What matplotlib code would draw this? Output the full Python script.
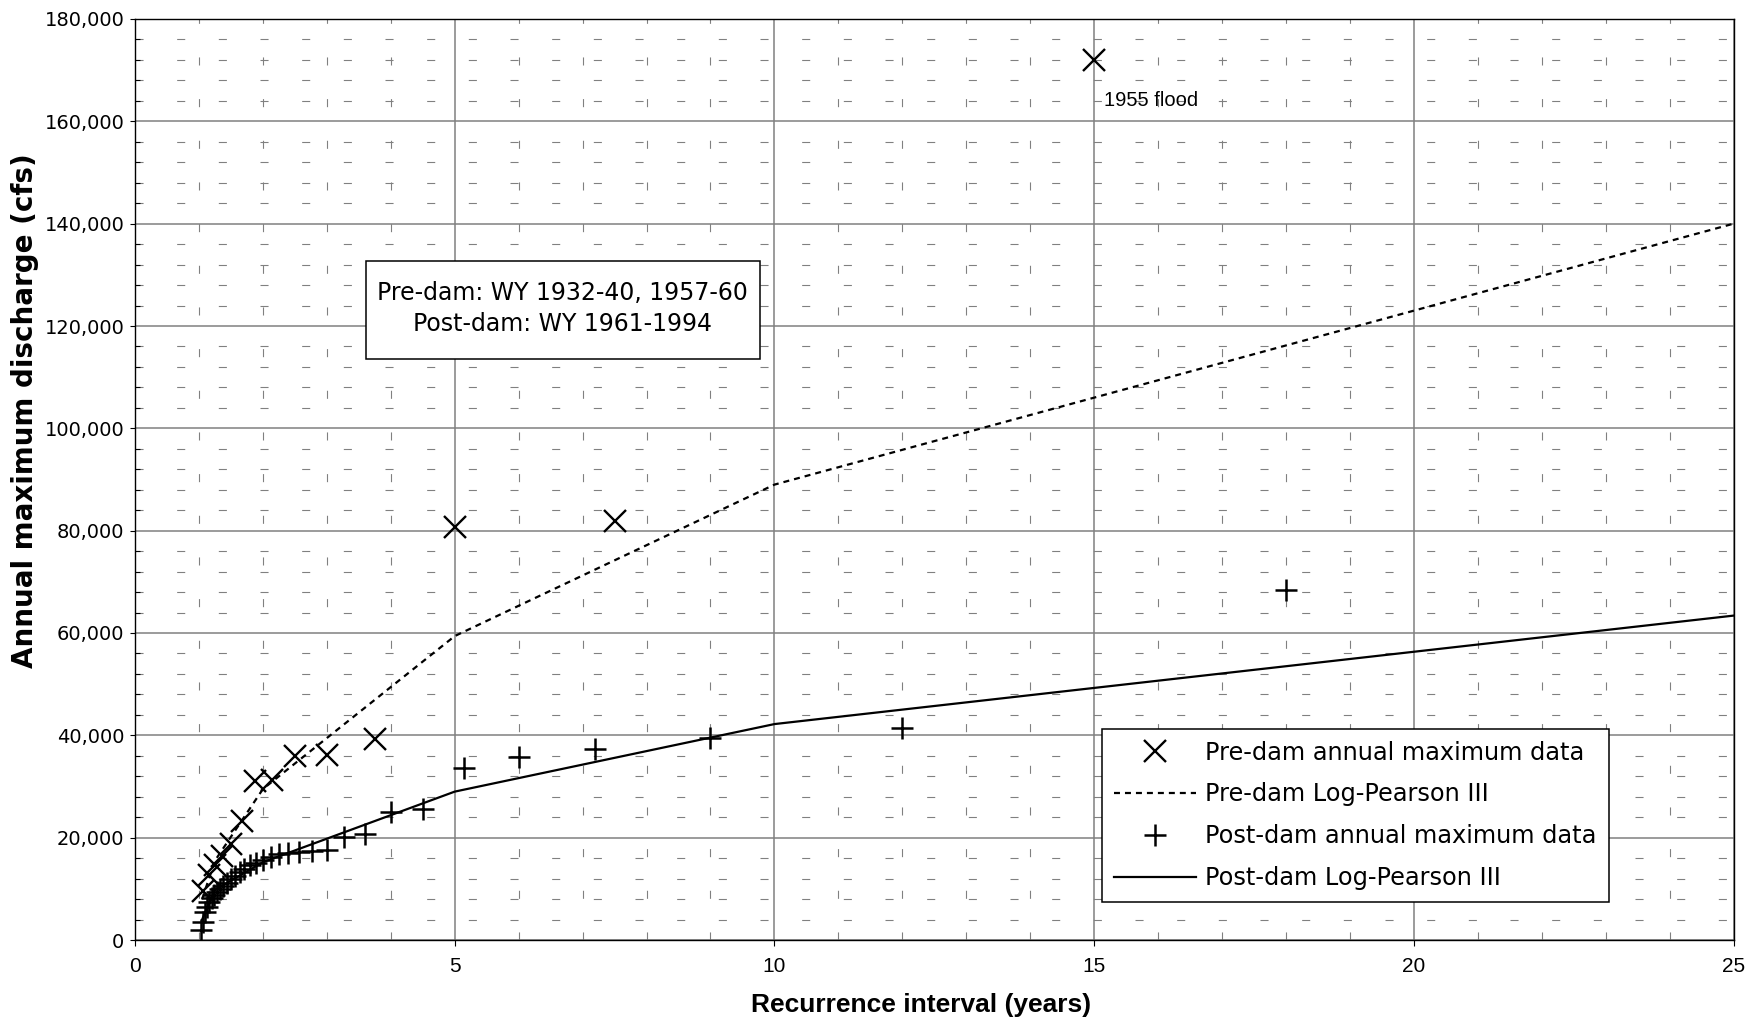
import matplotlib
matplotlib.use("Agg")
import matplotlib.pyplot as plt
import matplotlib.patches as mpatches
from matplotlib.ticker import FuncFormatter, MultipleLocator

plt.rcParams['lines.scale_dashes'] = False

# Pre-dam annual peaks (WY 1932-40, 1955, 1957-60), Weibull recurrence intervals
pre_T = [15.0, 7.5, 5.0, 3.75, 3.0, 2.5, 2.14, 1.875, 1.667, 1.5, 1.364, 1.25, 1.154, 1.071]
pre_Q = [172000, 81800, 80800, 39300, 36200, 36000, 31200, 31000, 23300, 18800,
         16500, 14600, 12700, 9600]

# Post-dam annual peaks (WY 1961-1994)
post_T = [18.0, 12.0, 9.0, 7.2, 6.0, 5.14, 4.5, 4.0, 3.6, 3.27, 3.0, 2.77, 2.57, 2.4,
          2.25, 2.12, 2.0, 1.89, 1.8, 1.71, 1.64, 1.57, 1.5, 1.44, 1.38, 1.33, 1.29,
          1.24, 1.2, 1.16, 1.125, 1.09, 1.06, 1.03]
post_Q = [68400, 41500, 39400, 37400, 35800, 33700, 25600, 25000, 20800, 20200, 17500,
          17400, 17200, 17000, 16800, 16300, 15600, 15100, 14700, 13800, 13200, 12500,
          11900, 11200, 10600, 10000, 9400, 8800, 8200, 7400, 6500, 5400, 3500, 2000]

# Log-Pearson III fitted frequency curves
lp3_T = [1.05, 1.25, 2, 5, 10, 25]
pre_lp3_Q = [8000, 15500, 29500, 59400, 89000, 140000]
post_lp3_Q = [4000, 9800, 15200, 29000, 42200, 63400]

GRID = '#808080'

fig = plt.figure(figsize=(17.65, 10.26), dpi=100)
ax = fig.add_axes([135 / 1765, 1 - 940 / 1026, 1598.6 / 1765, 921 / 1026])

ax.plot(pre_T, pre_Q, linestyle='none', marker='x', markersize=15.5, mew=1.7,
        color='black', label='Pre-dam annual maximum data', zorder=4)
ax.plot(lp3_T, pre_lp3_Q, linestyle=(0, (4.3, 3.6)), lw=1.6, color='black',
        label='Pre-dam Log-Pearson III', zorder=3)
ax.plot(post_T, post_Q, linestyle='none', marker='+', markersize=15.5, mew=1.8,
        color='black', label='Post-dam annual maximum data', zorder=4)
ax.plot(lp3_T, post_lp3_Q, linestyle='-', lw=1.6, color='black',
        label='Post-dam Log-Pearson III', zorder=3)

ax.set_xlim(0, 25)
ax.set_ylim(0, 180000)
ax.xaxis.set_major_locator(MultipleLocator(5))
ax.xaxis.set_minor_locator(MultipleLocator(1))
ax.yaxis.set_major_locator(MultipleLocator(20000))
ax.yaxis.set_minor_locator(MultipleLocator(4000))
ax.yaxis.set_major_formatter(FuncFormatter(lambda v, p: f'{int(v):,}'))

ax.set_axisbelow(True)
ax.grid(which='major', color=GRID, lw=1.1, linestyle='-')
ax.grid(which='minor', color=GRID, lw=0.8, linestyle=(0, (5.8, 24.2)))

ax.tick_params(axis='x', which='major', direction='out', length=4.3, width=0.8,
               pad=8, labelsize=15)
ax.tick_params(axis='x', which='minor', length=0)
ax.tick_params(axis='y', which='major', direction='out', length=3.6, width=0.8,
               pad=4, labelsize=14)
ax.tick_params(axis='y', which='minor', direction='in', length=3.6, width=0.8)
for lbl in ax.get_xticklabels():
    lbl.set_family(['Liberation Sans Narrow', 'Liberation Sans'])
for lbl in ax.get_yticklabels():
    lbl.set_family('DejaVu Sans')

for side in ['top', 'right', 'bottom', 'left']:
    ax.spines[side].set_color('black')
    ax.spines[side].set_linewidth(1.0)

ax.set_xlabel('Recurrence interval (years)', family='Liberation Sans',
              fontsize=19, fontweight='bold')
ax.xaxis.set_label_coords(0.492, -0.058)
ax.set_ylabel('Annual maximum discharge (cfs)', family='DejaVu Sans',
              fontsize=20, fontweight='bold')
ax.yaxis.set_label_coords(-0.060, 0.575)

# note beside the largest pre-dam peak
ax.text(15.15, 162900, '1955 flood', family='Liberation Sans', fontsize=14.5,
        ha='left', va='baseline', zorder=5)

# period-of-record box
box = mpatches.Rectangle((0.1445, 0.6308), 0.2465, 0.1064, transform=ax.transAxes,
                         facecolor='white', edgecolor='black', lw=1.1, zorder=5)
ax.add_patch(box)
ax.text(0.2674, 0.6855, 'Pre-dam: WY 1932-40, 1957-60\nPost-dam: WY 1961-1994',
        transform=ax.transAxes, ha='center', va='center', family='DejaVu Sans',
        fontsize=17, linespacing=1.4, zorder=6)

leg = ax.legend(loc='upper left', bbox_to_anchor=(0.605, 0.2295),
                bbox_transform=ax.transAxes, borderaxespad=0,
                prop={'family': 'DejaVu Sans', 'size': 17.3},
                handlelength=3.4, handletextpad=0.4, labelspacing=0.74,
                borderpad=0.5, fancybox=False, framealpha=1, edgecolor='black')
leg.get_frame().set_linewidth(1.1)
leg.set_zorder(6)

fig.savefig('out.png', dpi=100)
